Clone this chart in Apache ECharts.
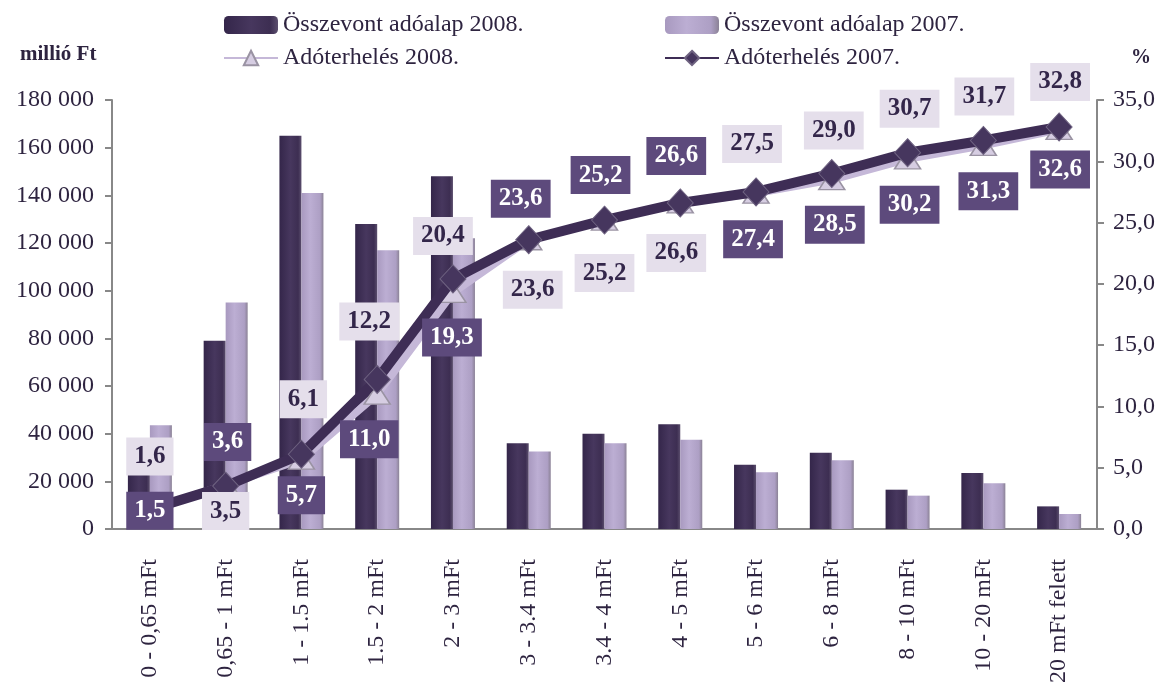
<!DOCTYPE html>
<html>
<head>
<meta charset="utf-8">
<script src="https://cdn.jsdelivr.net/npm/echarts@6/dist/echarts.min.js"></script>
<style>
  html, body { margin: 0; padding: 0; background: #fff; }
  #chart { width: 1173px; height: 686px; }
</style>
</head>
<body>
<div id="chart"></div>
<script>
  var categories = ['0 - 0,65 mFt', '0,65 - 1 mFt', '1 - 1.5 mFt', '1.5 - 2 mFt', '2 - 3 mFt', '3 - 3.4 mFt',
    '3.4 - 4 mFt', '4 - 5 mFt', '5 - 6 mFt', '6 - 8 mFt', '8 - 10 mFt', '10 - 20 mFt', '20 mFt felett']
  var adoalap2008 = [24000, 79000, 165000, 128000, 148000, 36000, 40000, 44000, 27000, 32000, 16500, 23500, 9500]
  var adoalap2007 = [43500, 95000, 141000, 117000, 122000, 32500, 36000, 37500, 23800, 28800, 14000, 19200, 6300]
  var terheles2008 = [1.5, 3.6, 5.7, 11.0, 19.3, 23.6, 25.2, 26.6, 27.4, 28.5, 30.2, 31.3, 32.6]
  var terheles2007 = [1.6, 3.5, 6.1, 12.2, 20.4, 23.6, 25.2, 26.6, 27.5, 29.0, 30.7, 31.7, 32.8]
  var leftTicks = [0, 20000, 40000, 60000, 80000, 100000, 120000, 140000, 160000, 180000]
  var rightTicks = [0, 5, 10, 15, 20, 25, 30, 35]

  var serif = 'Liberation Serif'
  var textColor = '#2e2440'

  // where each value label sits relative to its point (px)
  var off2008 = [[0, 0], [2, -43], [0, 36], [-8, 45], [-1, 45], [-8, -41], [-4, -45], [-4, -47], [-3, 46], [3, 45], [2, 46], [5, 46], [1, 40]]
  var off2007 = [[0, -53], [0, 25], [2, -55], [-8, -58], [-10, -43], [4, 50], [0, 53], [-4, 50], [-4, -48], [2, -43], [2, -44], [1, -44], [1, -45]]

  function fmtComma (v) {
    return v.toFixed(1).replace('.', ',')
  }

  function lineData (values, offsets) {
    var out = []
    for (var i = 0; i < values.length; i++) {
      out.push({ value: values[i], label: { offset: offsets[i] } })
    }
    return out
  }

  var labelBase = {
    show: true,
    position: 'inside',
    opacity: 1,
    fontFamily: serif,
    fontWeight: 'bold',
    fontSize: 25,
    lineHeight: 26,
    padding: [6, 8, 6, 8],
    formatter: function (p) { return fmtComma(p.value) }
  }

  // the labels go on invisible series above both lines
  function labelSeries (values, offsets, label) {
    return {
      type: 'scatter',
      yAxisIndex: 1,
      z: 10,
      symbolSize: 1,
      silent: true,
      itemStyle: { color: 'rgba(0,0,0,0)', opacity: 1 },
      label: label,
      data: lineData(values, offsets)
    }
  }

  var darkBar = new echarts.graphic.LinearGradient(0, 0, 1, 0, [
    { offset: 0, color: '#34264a' },
    { offset: 0.5, color: '#47375e' },
    { offset: 0.85, color: '#3d2e52' },
    { offset: 1, color: '#5c4f6e' }
  ])
  var lightBar = new echarts.graphic.LinearGradient(0, 0, 1, 0, [
    { offset: 0, color: '#a899bf' },
    { offset: 0.4, color: '#bcaed3' },
    { offset: 0.85, color: '#ad9fc4' },
    { offset: 1, color: '#8b8296' }
  ])

  var chart = echarts.init(document.getElementById('chart'))
  chart.setOption({
    animation: false,
    textStyle: { fontFamily: serif, color: textColor },
    legend: [
      {
        left: 218,
        top: 8,
        orient: 'vertical',
        itemGap: 9,
        itemWidth: 54,
        itemHeight: 18,
        textStyle: { fontFamily: serif, fontSize: 24, color: textColor },
        data: ['Összevont adóalap 2008.', 'Adóterhelés 2008.']
      },
      {
        left: 659,
        top: 8,
        orient: 'vertical',
        itemGap: 9,
        itemWidth: 54,
        itemHeight: 18,
        textStyle: { fontFamily: serif, fontSize: 24, color: textColor },
        data: ['Összevont adóalap 2007.', 'Adóterhelés 2007.']
      }
    ],
    graphic: [
      { type: 'text', left: 20, top: 44, style: { text: 'millió Ft', font: 'bold 21px "Liberation Serif"', fill: textColor } },
      { type: 'text', left: 1131, top: 48, style: { text: '%', font: 'bold 20px "Liberation Serif"', fill: textColor } }
    ],
    grid: { left: 112, right: 76, top: 100, bottom: 155 },
    xAxis: {
      type: 'category',
      data: categories,
      axisLine: { lineStyle: { color: '#888', width: 2 } },
      axisTick: { length: 7, lineStyle: { color: '#888', width: 2 } },
      axisLabel: { rotate: 90, fontSize: 24, margin: 30, color: textColor, fontFamily: serif }
    },
    yAxis: [
      {
        type: 'value',
        min: leftTicks[0],
        max: leftTicks[leftTicks.length - 1],
        interval: leftTicks[1] - leftTicks[0],
        splitLine: { show: false },
        axisLine: { show: true, lineStyle: { color: '#888', width: 2 } },
        axisTick: { show: true, length: 7, lineStyle: { color: '#888', width: 2 } },
        axisLabel: {
          fontSize: 24,
          margin: 18,
          color: textColor,
          fontFamily: serif,
          formatter: function (v) { return String(v).replace(/\B(?=(\d{3})+(?!\d))/g, ' ') }
        }
      },
      {
        type: 'value',
        min: rightTicks[0],
        max: rightTicks[rightTicks.length - 1],
        interval: rightTicks[1] - rightTicks[0],
        splitLine: { show: false },
        axisLine: { show: true, lineStyle: { color: '#888', width: 2 } },
        axisTick: { show: true, length: 7, lineStyle: { color: '#888', width: 2 } },
        axisLabel: {
          fontSize: 24,
          margin: 16,
          color: textColor,
          fontFamily: serif,
          formatter: function (v) { return fmtComma(v) }
        }
      }
    ],
    series: [
      {
        name: 'Összevont adóalap 2008.',
        type: 'bar',
        barWidth: 22,
        barGap: '0%',
        itemStyle: { color: darkBar },
        data: adoalap2008
      },
      {
        name: 'Összevont adóalap 2007.',
        type: 'bar',
        barWidth: 22,
        itemStyle: { color: lightBar },
        data: adoalap2007
      },
      {
        name: 'Adóterhelés 2008.',
        type: 'line',
        yAxisIndex: 1,
        z: 3,
        symbol: 'triangle',
        symbolSize: [26, 20],
        lineStyle: { color: '#c5b8d8', width: 8 },
        itemStyle: { color: '#d6cde2', borderColor: '#9a93a3', borderWidth: 1.5 },
        data: terheles2008
      },
      {
        name: 'Adóterhelés 2007.',
        type: 'line',
        yAxisIndex: 1,
        z: 4,
        symbol: 'diamond',
        symbolSize: [26, 28],
        lineStyle: { color: '#3e2d55', width: 10 },
        itemStyle: { color: '#46365e', borderColor: '#6e6280', borderWidth: 1 },
        data: terheles2007
      },
      labelSeries(terheles2008, off2008, Object.assign({}, labelBase, { color: '#ffffff', backgroundColor: '#5d4a7c' })),
      labelSeries(terheles2007, off2007, Object.assign({}, labelBase, { color: '#33264a', backgroundColor: '#e5dfeb' }))
    ]
  })
</script>
</body>
</html>
